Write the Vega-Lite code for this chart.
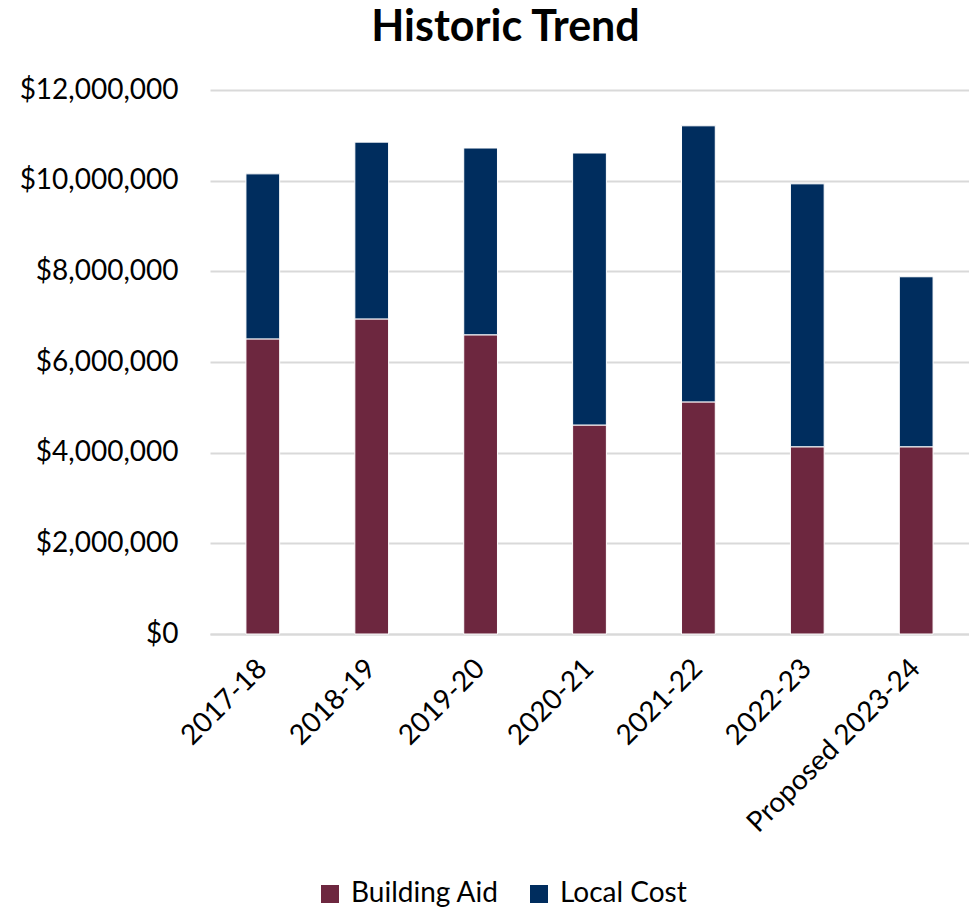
{
  "$schema": "https://vega.github.io/schema/vega-lite/v6.json",
  "width": 759,
  "height": 544,
  "autosize": {"type": "none"},
  "padding": {"left": 210, "top": 90, "right": 0, "bottom": 275},
  "background": "white",
  "title": {
    "text": "Historic Trend",
    "fontSize": 43,
    "fontWeight": "bold",
    "font": "Lato",
    "color": "#000000",
    "anchor": "middle",
    "frame": "group",
    "dx": -84,
    "offset": 26
  },
  "data": {
    "values": [
      {"year": "2017-18", "series": "Building Aid", "value": 6510000, "k": 1},
      {"year": "2017-18", "series": "Local Cost", "value": 3640000, "k": 2},
      {"year": "2018-19", "series": "Building Aid", "value": 6950000, "k": 1},
      {"year": "2018-19", "series": "Local Cost", "value": 3900000, "k": 2},
      {"year": "2019-20", "series": "Building Aid", "value": 6600000, "k": 1},
      {"year": "2019-20", "series": "Local Cost", "value": 4120000, "k": 2},
      {"year": "2020-21", "series": "Building Aid", "value": 4610000, "k": 1},
      {"year": "2020-21", "series": "Local Cost", "value": 6000000, "k": 2},
      {"year": "2021-22", "series": "Building Aid", "value": 5120000, "k": 1},
      {"year": "2021-22", "series": "Local Cost", "value": 6090000, "k": 2},
      {"year": "2022-23", "series": "Building Aid", "value": 4130000, "k": 1},
      {"year": "2022-23", "series": "Local Cost", "value": 5800000, "k": 2},
      {"year": "Proposed 2023-24", "series": "Building Aid", "value": 4130000, "k": 1},
      {"year": "Proposed 2023-24", "series": "Local Cost", "value": 3750000, "k": 2}
    ]
  },
  "mark": {"type": "bar", "stroke": "white", "strokeWidth": 1},
  "encoding": {
    "x": {
      "field": "year",
      "type": "nominal",
      "sort": null,
      "scale": {"paddingInner": 0.69, "paddingOuter": 0.33},
      "axis": {
        "title": null,
        "labelAngle": -45,
        "labelAlign": "right",
        "labelBaseline": "middle",
        "labelFont": "Lato",
        "labelFontSize": 28,
        "labelColor": "#000000",
        "labelPadding": 30,
        "ticks": false,
        "domain": true,
        "domainColor": "#d9d9d9",
        "domainWidth": 2,
        "labelLimit": 400
      }
    },
    "y": {
      "field": "value",
      "type": "quantitative",
      "stack": "zero",
      "scale": {"domain": [0, 12000000]},
      "axis": {
        "title": null,
        "values": [0, 2000000, 4000000, 6000000, 8000000, 10000000, 12000000],
        "format": "$,.0f",
        "labelFont": "Lato",
        "labelFontSize": 28,
        "labelColor": "#000000",
        "labelPadding": 32,
        "ticks": false,
        "domain": false,
        "grid": true,
        "gridColor": "#d9d9d9",
        "gridWidth": 2
      }
    },
    "color": {
      "field": "series",
      "type": "nominal",
      "scale": {"domain": ["Building Aid", "Local Cost"], "range": ["#6D273F", "#002D5E"]},
      "legend": {
        "title": null,
        "orient": "none",
        "direction": "horizontal",
        "legendX": 106,
        "legendY": 790,
        "symbolType": "square",
        "symbolSize": 324,
        "symbolStrokeWidth": 0,
        "labelFont": "Lato",
        "labelFontSize": 28,
        "labelColor": "#000000",
        "columnPadding": 26,
        "labelOffset": 7
      }
    },
    "order": {"field": "k", "type": "quantitative"}
  },
  "config": {"view": {"stroke": null}}
}
